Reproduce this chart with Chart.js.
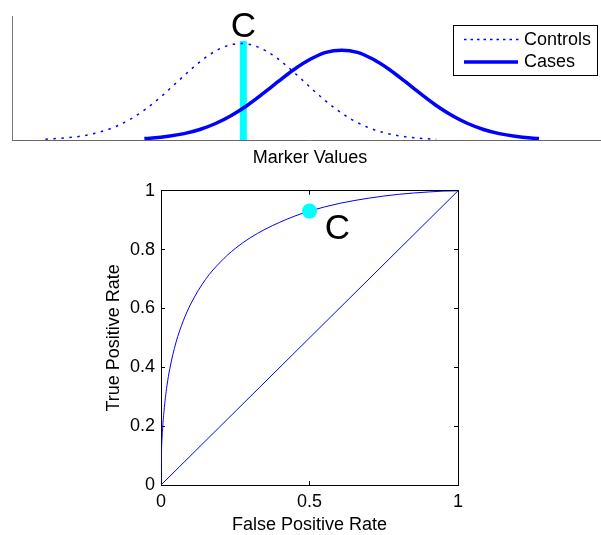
<!DOCTYPE html>
<html>
<head>
<meta charset="utf-8">
<title>Marker distributions and ROC curve</title>
<script src="https://cdn.jsdelivr.net/npm/chart.js@4.4.1/dist/chart.umd.min.js"></script>
<style>
  html, body { margin: 0; padding: 0; background: #fff; overflow: hidden; }
  #page { position: relative; width: 601px; height: 535px; overflow: hidden; }
  #distCanvas { position: absolute; left: 0; top: 0; }
  #rocCanvas { position: absolute; left: 0; top: 170px; }
</style>
</head>
<body>
<div id="page">
  <canvas id="distCanvas" width="608" height="170"></canvas>
  <canvas id="rocCanvas" width="601" height="365"></canvas>
</div>
<script>
// top panel: marker value distributions (relative density)
const controlsX = [-3.1, -2.75, -2.5, -2.25, -2, -1.75, -1.5, -1.25, -1, -0.75, -0.5, -0.25, 0, 0.25, 0.5, 0.75, 1, 1.25, 1.5, 1.75, 2, 2.25, 2.5, 2.75, 3.1];
const controlsY = [0.008, 0.023, 0.044, 0.080, 0.135, 0.216, 0.325, 0.458, 0.607, 0.755, 0.883, 0.969, 1, 0.969, 0.883, 0.755, 0.607, 0.458, 0.325, 0.216, 0.135, 0.080, 0.044, 0.023, 0.008];
const casesX = [-1.53, -1.4, -1.15, -0.9, -0.65, -0.4, -0.15, 0.1, 0.35, 0.6, 0.85, 1.1, 1.35, 1.6, 1.85, 2.1, 2.35, 2.6, 2.85, 3.1, 3.35, 3.6, 3.85, 4.1, 4.35, 4.6, 4.73];
const casesY = [0.015, 0.020, 0.038, 0.066, 0.109, 0.171, 0.254, 0.358, 0.480, 0.609, 0.733, 0.836, 0.908, 0.93, 0.908, 0.836, 0.733, 0.609, 0.480, 0.358, 0.254, 0.171, 0.109, 0.066, 0.038, 0.020, 0.015];
const cutoffValue = 0.04;
const cutoffHeight = 1.026;
const markerRange = [-3.63, 5.825];
const densityRange = [0, 1.285];

// bottom panel: ROC curve
const rocFpr = [0, 0.001, 0.005, 0.01, 0.02, 0.03, 0.05, 0.075, 0.1, 0.15, 0.2, 0.25, 0.3, 0.35, 0.4, 0.45, 0.5, 0.6, 0.7, 0.8, 0.9, 0.95, 1];
const rocTpr = [0, 0.084, 0.183, 0.250, 0.337, 0.397, 0.483, 0.558, 0.615, 0.699, 0.758, 0.804, 0.840, 0.869, 0.893, 0.914, 0.931, 0.957, 0.975, 0.988, 0.996, 0.999, 1];
const chanceLine = [0, 1];
const cutoffPoint = { fpr: 0.5, tpr: 0.931 };
const rocXTicks = [0, 0.5, 1];
const rocYTicks = [0, 0.2, 0.4, 0.6, 0.8, 1];

const BLUE = "#0000ff";
const CYAN = "#00ffff";
const FONT = "'Liberation Sans', Arial, Helvetica, sans-serif";

Chart.defaults.font.family = FONT;
Chart.defaults.font.size = 18;
Chart.defaults.color = "#000";

const toPoints = (xs, ys) => xs.map((x, i) => ({ x, y: ys[i] }));

const distLabels = {
  id: "distLabels",
  afterDatasetsDraw(chart) {
    const { ctx, scales } = chart;
    ctx.save();
    // "C" above the cutoff bar
    ctx.fillStyle = "#000";
    ctx.font = `35px ${FONT}`;
    ctx.textAlign = "center";
    ctx.textBaseline = "alphabetic";
    ctx.fillText("C", scales.x.getPixelForValue(cutoffValue), scales.y.getPixelForValue(cutoffHeight) - 3.5);

    // legend box
    ctx.fillStyle = "#fff";
    ctx.fillRect(453, 25, 145, 51);
    ctx.strokeStyle = "#000";
    ctx.lineWidth = 1;
    ctx.strokeRect(453.5, 25.5, 144, 50);

    ctx.strokeStyle = BLUE;
    ctx.lineWidth = 1.5;
    ctx.setLineDash([2.5, 4]);
    ctx.beginPath();
    ctx.moveTo(464, 39.5);
    ctx.lineTo(519, 39.5);
    ctx.stroke();

    ctx.setLineDash([]);
    ctx.lineWidth = 3.5;
    ctx.beginPath();
    ctx.moveTo(464, 62);
    ctx.lineTo(518, 62);
    ctx.stroke();

    ctx.fillStyle = "#000";
    ctx.font = `18px ${FONT}`;
    ctx.textAlign = "left";
    ctx.textBaseline = "middle";
    ctx.fillText("Controls", 524, 40);
    ctx.fillText("Cases", 524, 62);
    ctx.restore();
  },
};

const rocLabels = {
  id: "rocLabels",
  afterDatasetsDraw(chart) {
    const { ctx, scales } = chart;
    ctx.save();
    ctx.fillStyle = "#000";
    ctx.font = `35px ${FONT}`;
    ctx.textAlign = "center";
    ctx.textBaseline = "alphabetic";
    ctx.fillText("C", scales.x.getPixelForValue(cutoffPoint.fpr) + 28, scales.y.getPixelForValue(cutoffPoint.tpr) + 27.5);
    ctx.restore();
  },
};

function renderDistributions() {
  new Chart(document.getElementById("distCanvas"), {
    type: "scatter",
    data: {
      datasets: [
        {
          label: "Cases",
          data: toPoints(casesX, casesY),
          showLine: true,
          borderColor: BLUE,
          borderWidth: 3.5,
          pointRadius: 0,
          cubicInterpolationMode: "monotone",
        },
        {
          label: "Controls",
          data: toPoints(controlsX, controlsY),
          showLine: true,
          borderColor: BLUE,
          borderWidth: 1.5,
          borderDash: [2.5, 5.5],
          pointRadius: 0,
          cubicInterpolationMode: "monotone",
        },
        {
          label: "Cutoff",
          data: [{ x: cutoffValue, y: 0 }, { x: cutoffValue, y: cutoffHeight }],
          showLine: true,
          borderColor: CYAN,
          borderWidth: 7,
          pointRadius: 0,
        },
      ],
    },
    options: {
      responsive: false,
      animation: false,
      layout: { padding: { top: 16, left: 0, right: 0, bottom: 0 } },
      plugins: { legend: { display: false }, tooltip: { enabled: false } },
      scales: {
        x: {
          type: "linear",
          min: markerRange[0],
          max: markerRange[1],
          afterFit: (scale) => { scale.height = 30; },
          ticks: { display: false },
          grid: { display: false },
          border: { display: true, color: "#666", width: 1 },
          title: { display: true, text: "Marker Values", font: { size: 18 }, padding: { top: 0, bottom: 1 } },
        },
        y: {
          type: "linear",
          min: densityRange[0],
          max: densityRange[1],
          afterFit: (scale) => { scale.width = 12; },
          ticks: { display: false },
          grid: { display: false },
          border: { display: true, color: "#777", width: 1 },
        },
      },
    },
    plugins: [distLabels],
  });
}

function boxAxis(position, tickValues, extra) {
  return Object.assign({
    type: "linear",
    position,
    min: 0,
    max: 1,
    afterBuildTicks: (scale) => { scale.ticks = tickValues.map((value) => ({ value })); },
    ticks: { display: false, callback: (value) => String(value) },
    grid: { drawOnChartArea: false, drawTicks: true, tickLength: -4, color: "#000", lineWidth: 1 },
    border: { display: true, color: "#000", width: 1 },
  }, extra);
}

function renderRoc() {
  new Chart(document.getElementById("rocCanvas"), {
    type: "scatter",
    data: {
      datasets: [
        {
          label: "Cutoff C",
          data: [{ x: cutoffPoint.fpr, y: cutoffPoint.tpr }],
          pointRadius: 7.5,
          pointBackgroundColor: CYAN,
          pointBorderWidth: 0,
          clip: false,
        },
        {
          label: "ROC",
          data: toPoints(rocFpr, rocTpr),
          showLine: true,
          borderColor: BLUE,
          borderWidth: 1,
          pointRadius: 0,
          cubicInterpolationMode: "monotone",
        },
        {
          label: "Chance",
          data: toPoints(chanceLine, chanceLine),
          showLine: true,
          borderColor: BLUE,
          borderWidth: 1,
          pointRadius: 0,
        },
      ],
    },
    options: {
      responsive: false,
      animation: false,
      layout: { padding: { top: 19, left: 100, right: 143, bottom: 0 } },
      plugins: { legend: { display: false }, tooltip: { enabled: false } },
      scales: {
        x: boxAxis("bottom", rocXTicks, {
          afterFit: (scale) => { scale.height = 50; },
          ticks: { display: true, padding: 10, callback: (value) => String(value) },
          title: { display: true, text: "False Positive Rate", padding: { top: 0, bottom: -1 } },
        }),
        x2: boxAxis("top", rocXTicks, { afterFit: (scale) => { scale.height = 0; } }),
        y: boxAxis("left", rocYTicks, {
          afterFit: (scale) => { scale.width = 61; },
          ticks: { display: true, padding: 10, callback: (value) => String(value) },
          title: { display: true, text: "True Positive Rate", padding: { top: 3, bottom: 0 } },
        }),
        y2: boxAxis("right", rocYTicks, { afterFit: (scale) => { scale.width = 0; } }),
      },
    },
    plugins: [rocLabels],
  });
}

renderDistributions();
renderRoc();
</script>
</body>
</html>
